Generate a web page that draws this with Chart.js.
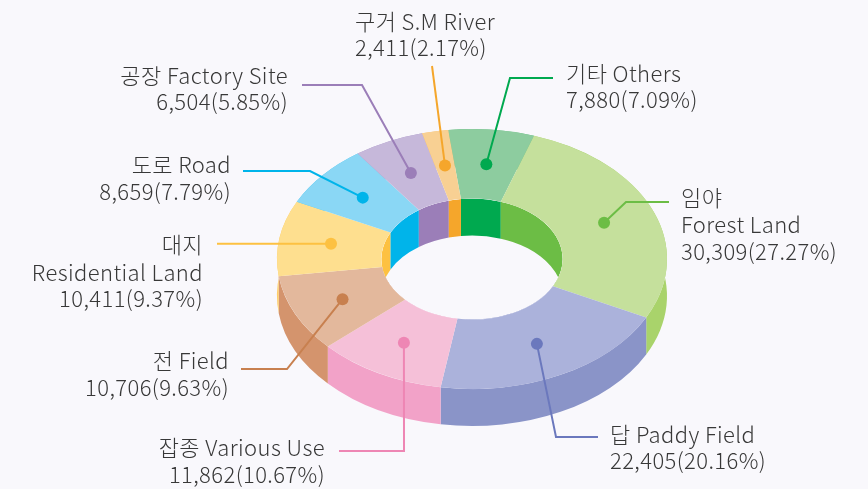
<!DOCTYPE html>
<html>
<head>
<meta charset="utf-8">
<title>Land use by category</title>
<script src="https://cdn.jsdelivr.net/npm/chart.js@4.4.1/dist/chart.umd.min.js"></script>
<style>
body { margin:0; background:#f9f8fc; }
#wrap { width:868px; height:489px; }
</style>
</head>
<body>
<div id="wrap"><canvas id="myChart" width="868" height="489"></canvas></div>
<script>
// categories, clockwise from the top
var namesKo = ['기타', '임야', '답', '잡종', '전', '대지', '도로', '공장', '구거'];
var namesEn = ['Others', 'Forest Land', 'Paddy Field', 'Various Use', 'Field', 'Residential Land', 'Road', 'Factory Site', 'S.M River'];
var areas = [7880, 30309, 22405, 11862, 10706, 10411, 8659, 6504, 2411];

var topColors  = ['#8dcc9f', '#c5e09c', '#abb2db', '#f5c0d8', '#e3b89c', '#fedf8f', '#8ad7f5', '#c6b8da', '#f8d093'];
var sideColors = ['#5fbb7e', '#a9d36b', '#8a94c8', '#f2a2c8', '#d4946d', '#fecd6a', '#4cc6f0', '#ab97c9', '#f6bb62'];
var accent     = ['#00a94f', '#6cbd45', '#6b78bd', '#ee86b4', '#c8804f', '#fdc141', '#00b4ea', '#9b7eb8', '#f5a62b'];

var TILT = 0.667;   // vertical squash of the ring
var DEPTH = 37;     // wall height in px

// leader line elbow / end and text anchor for each slice (ey null = level with the dot)
var callouts = [
  { ex: 510, ey: 78,   lx: 553, tx: 566, align: 'left',  ty: [74, 100] },
  { ex: 626, ey: 202,  lx: 669, tx: 681, align: 'left',  ty: [198, 225, 252], split: true },
  { ex: 556, ey: 437,  lx: 598, tx: 610, align: 'left',  ty: [435, 461] },
  { ex: 404, ey: 451,  lx: 339, tx: 325, align: 'right', ty: [448, 475] },
  { ex: 287, ey: 369,  lx: 241, tx: 229, align: 'right', ty: [361, 388] },
  { ex: 217, ey: null, lx: 217, tx: 203, align: 'right', ty: [245, 273, 299], split: true },
  { ex: 310, ey: 171,  lx: 243, tx: 231, align: 'right', ty: [165, 192] },
  { ex: 362, ey: 85,   lx: 302, tx: 288, align: 'right', ty: [76, 102] },
  { ex: 432, ey: 66,   lx: 432, tx: 355, align: 'left',  ty: [22, 48] }
];

var total = areas.reduce(function (s, v) { return s + v; }, 0);

function band(ctx, a, r) {
  var dy = DEPTH / TILT;
  ctx.beginPath();
  ctx.arc(a.x, a.y, r, a.startAngle, a.endAngle);
  ctx.arc(a.x, a.y + dy, r, a.endAngle, a.startAngle, true);
  ctx.closePath();
  ctx.fill();
}

var ring3d = {
  id: 'ring3d',
  beforeDatasetsDraw: function (chart) {
    var ctx = chart.ctx;
    var arcs = chart.getDatasetMeta(0).data;
    var cx = arcs[0].x, cy = arcs[0].y;
    ctx.save();
    ctx.translate(cx, cy);
    ctx.scale(1, TILT);
    ctx.translate(-cx, -cy);
    // outer wall
    arcs.forEach(function (a, i) {
      ctx.fillStyle = sideColors[i];
      band(ctx, a, a.outerRadius);
    });
    // inner wall, only seen through the hole
    ctx.save();
    ctx.beginPath();
    ctx.arc(cx, cy, arcs[0].innerRadius, 0, Math.PI * 2);
    ctx.clip();
    arcs.forEach(function (a, i) {
      ctx.fillStyle = accent[i];
      band(ctx, a, a.innerRadius);
    });
    ctx.restore();
  },
  afterDatasetsDraw: function (chart) {
    chart.ctx.restore();
  },
  afterDraw: function (chart) {
    var ctx = chart.ctx;
    var arcs = chart.getDatasetMeta(0).data;
    ctx.save();
    arcs.forEach(function (a, i) {
      var c = callouts[i];
      var mid = (a.startAngle + a.endAngle) / 2;
      var rm = (a.innerRadius + a.outerRadius) / 2;
      var px = a.x + rm * Math.cos(mid);
      var py = a.y + TILT * rm * Math.sin(mid);
      var ey = c.ey === null ? py : c.ey;
      ctx.strokeStyle = accent[i];
      ctx.fillStyle = accent[i];
      ctx.lineWidth = 2;
      ctx.beginPath();
      ctx.moveTo(px, py);
      ctx.lineTo(c.ex, ey);
      ctx.lineTo(c.lx, ey);
      ctx.stroke();
      ctx.beginPath();
      ctx.arc(px, py, 6, 0, Math.PI * 2);
      ctx.fill();

      var val = areas[i].toLocaleString('en-US') + '(' + (areas[i] / total * 100).toFixed(2) + '%)';
      var lines = c.split ? [namesKo[i], namesEn[i], val] : [namesKo[i] + ' ' + namesEn[i], val];
      ctx.fillStyle = '#383838';
      ctx.font = '300 22px "Noto Sans CJK KR", "Noto Sans", sans-serif';
      ctx.letterSpacing = '0.4px';
      ctx.textAlign = c.align;
      ctx.textBaseline = 'middle';
      lines.forEach(function (t, k) { ctx.fillText(t, c.tx, c.ty[k]); });
    });
    ctx.restore();
  }
};

new Chart(document.getElementById('myChart'), {
  type: 'doughnut',
  data: {
    labels: namesEn,
    datasets: [{
      data: areas,
      backgroundColor: topColors,
      borderWidth: 0,
      offset: 0,
      hoverOffset: 0,
      clip: false
    }]
  },
  options: {
    responsive: false,
    animation: false,
    events: [],
    rotation: -7,
    cutout: '46.5%',
    layout: { padding: { left: 277, right: 201, top: 64, bottom: 35 } },
    plugins: { legend: { display: false }, tooltip: { enabled: false } }
  },
  plugins: [ring3d]
});
</script>
</body>
</html>
